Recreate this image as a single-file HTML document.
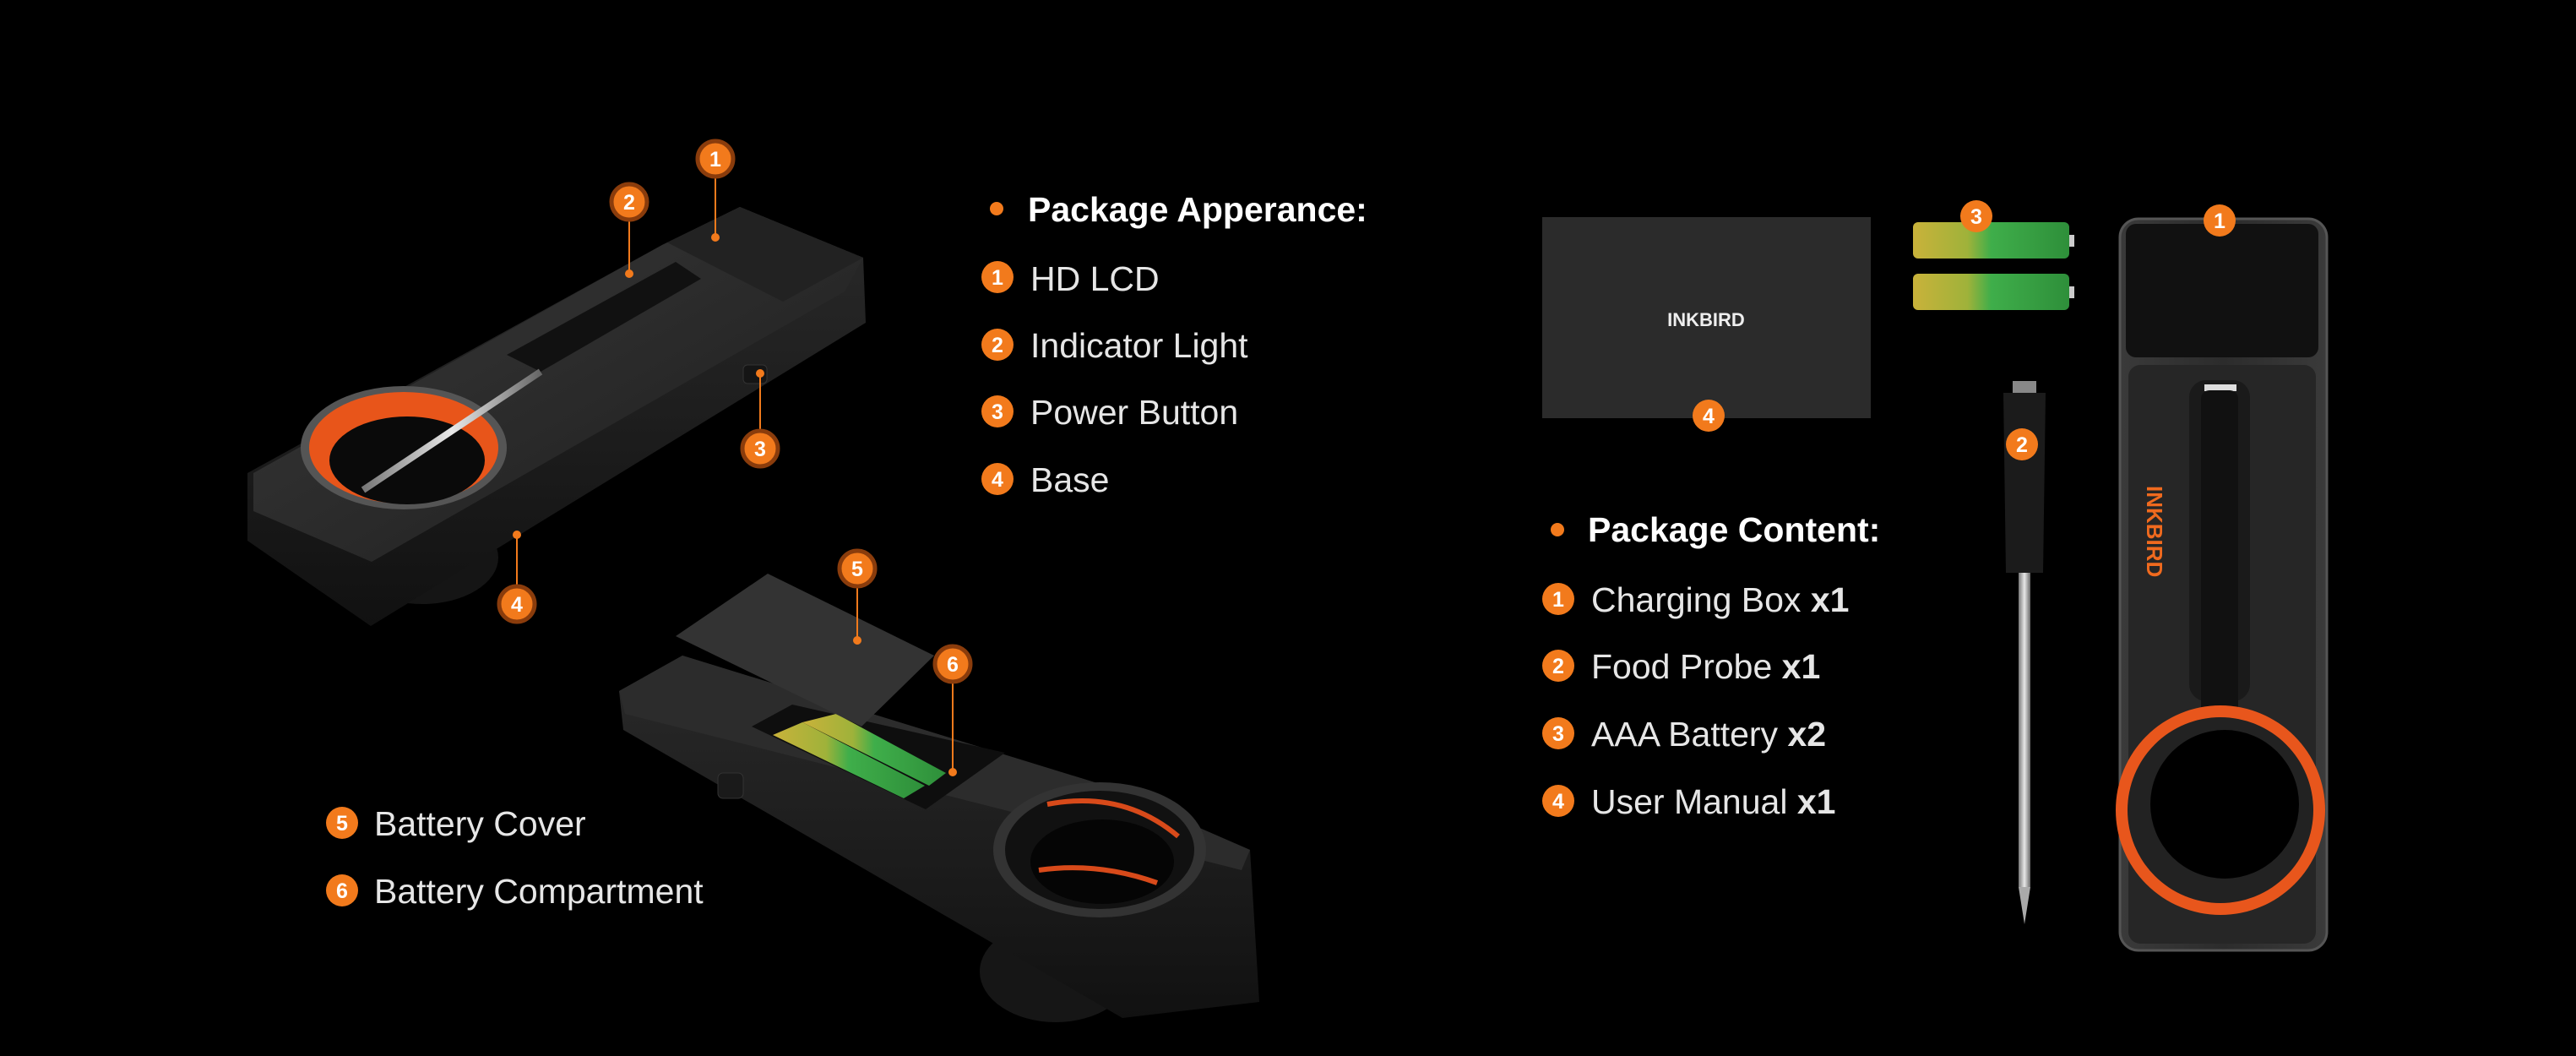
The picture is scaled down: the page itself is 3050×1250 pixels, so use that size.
<!DOCTYPE html>
<html><head><meta charset="utf-8"><style>
html,body{margin:0;padding:0;background:#000;}
svg{display:block}
.t{font-family:"Liberation Sans",sans-serif;fill:#e6e6e6;font-size:41px;}
.h{font-family:"Liberation Sans",sans-serif;fill:#fff;font-size:41px;font-weight:bold;}
.n{font-family:"Liberation Sans",sans-serif;fill:#fff;font-size:25px;font-weight:bold;text-anchor:middle;}
</style></head><body>
<svg width="3050" height="1250" viewBox="0 0 3050 1250" xmlns="http://www.w3.org/2000/svg">
<defs>
<linearGradient id="g1" x1="0" y1="0" x2="1" y2="1"><stop offset="0" stop-color="#3a3a3a"/><stop offset="1" stop-color="#1c1c1c"/></linearGradient>
<linearGradient id="g2" x1="0" y1="0" x2="0" y2="1"><stop offset="0" stop-color="#2a2a2a"/><stop offset="1" stop-color="#111"/></linearGradient>
<linearGradient id="bat" x1="0" y1="0" x2="1" y2="0"><stop offset="0" stop-color="#c9b23a"/><stop offset="0.35" stop-color="#9fb23a"/><stop offset="0.5" stop-color="#3fae4a"/><stop offset="1" stop-color="#2e8f3a"/></linearGradient>
<linearGradient id="probe" x1="0" y1="0" x2="1" y2="0"><stop offset="0" stop-color="#777"/><stop offset="0.5" stop-color="#e8e8e8"/><stop offset="1" stop-color="#666"/></linearGradient>
<linearGradient id="box" x1="0" y1="0" x2="1" y2="0"><stop offset="0" stop-color="#3a3a3a"/><stop offset="0.5" stop-color="#2c2c2c"/><stop offset="1" stop-color="#3a3a3a"/></linearGradient>
</defs>
<rect width="3050" height="1250" fill="#000"/>

<!-- Device 1 -->
<ellipse cx="500" cy="660" rx="90" ry="55" fill="#151515"/>
<polygon points="293,560 784,290 876,245 1022,305 1025,382 439,741 293,640" fill="url(#g2)"/>
<polygon points="300,560 784,290 876,245 1022,305 1000,345 440,665 300,605" fill="url(#g1)"/>
<polygon points="790,287 876,245 1022,305 927,357" fill="#222"/>
<polygon points="600,420 800,310 830,330 640,440" fill="#111"/>
<rect x="880" y="432" width="28" height="22" rx="5" fill="#151515" stroke="#333"/>
<ellipse cx="478" cy="530" rx="122" ry="73" fill="#555"/>
<ellipse cx="478" cy="530" rx="112" ry="66" fill="#e8551a"/>
<ellipse cx="482" cy="545" rx="92" ry="52" fill="#0a0a0a"/>
<line x1="430" y1="580" x2="640" y2="440" stroke="url(#probe)" stroke-width="8"/>

<!-- Device 2 -->
<ellipse cx="1250" cy="1150" rx="90" ry="60" fill="#161616"/>
<polygon points="733,818 808,776 1296,926 1480,1006 1491,1186 1329,1205 738,864" fill="url(#g2)"/>
<polygon points="733,818 808,776 1296,926 1480,1006 1470,1030 740,845" fill="#2c2c2c"/>
<polygon points="890,860 938,834 1190,891 1096,958" fill="#0e0e0e"/>
<polygon points="915,870 950,855 1095,930 1070,945" fill="url(#bat)"/>
<polygon points="950,855 990,845 1120,915 1100,930" fill="url(#bat)"/>
<polygon points="800,753 909,679 1106,776 1020,860" fill="#333"/>
<rect x="850" y="915" width="30" height="30" rx="6" fill="#1a1a1a" stroke="#333"/>
<ellipse cx="1302" cy="1006" rx="126" ry="80" fill="#333"/>
<ellipse cx="1302" cy="1006" rx="112" ry="70" fill="#111"/>
<ellipse cx="1305" cy="1020" rx="85" ry="50" fill="#050505"/>
<path d="M1240,952 Q1330,935 1395,990" stroke="#d84a1a" stroke-width="6" fill="none"/>
<path d="M1230,1030 Q1300,1020 1370,1045" stroke="#d84a1a" stroke-width="6" fill="none"/>

<!-- Left markers -->
<g stroke="#f27a1c" stroke-width="2" fill="none">
<line x1="847" y1="188" x2="847" y2="281"/><line x1="745" y1="239" x2="745" y2="324"/>
<line x1="900" y1="531" x2="900" y2="442"/><line x1="612" y1="715" x2="612" y2="633"/>
<line x1="1015" y1="673" x2="1015" y2="758"/><line x1="1128" y1="786" x2="1128" y2="914"/>
</g>
<g fill="#f27a1c">
<circle cx="847" cy="281" r="5"/><circle cx="745" cy="324" r="5"/><circle cx="900" cy="442" r="5"/>
<circle cx="612" cy="633" r="5"/><circle cx="1015" cy="758" r="5"/><circle cx="1128" cy="914" r="5"/>
</g>
<g fill="#f27a1c" stroke="#8a3c0c" stroke-width="5">
<circle cx="847" cy="188" r="21"/><circle cx="745" cy="239" r="21"/><circle cx="900" cy="531" r="21"/>
<circle cx="612" cy="715" r="21"/><circle cx="1015" cy="673" r="21"/><circle cx="1128" cy="786" r="21"/>
</g>
<text class="n" x="847" y="197">1</text><text class="n" x="745" y="248">2</text><text class="n" x="900" y="540">3</text>
<text class="n" x="612" y="724">4</text><text class="n" x="1015" y="682">5</text><text class="n" x="1128" y="795">6</text>

<!-- Left texts -->
<circle cx="1180" cy="247" r="8" fill="#f27a1c"/>
<text class="h" x="1217" y="262">Package Apperance:</text>
<g fill="#f27a1c"><circle cx="1181" cy="328" r="19"/><circle cx="1181" cy="408" r="19"/><circle cx="1181" cy="487" r="19"/><circle cx="1181" cy="567" r="19"/>
<circle cx="405" cy="974" r="19"/><circle cx="405" cy="1054" r="19"/></g>
<text class="n" x="1181" y="337">1</text><text class="n" x="1181" y="417">2</text><text class="n" x="1181" y="496">3</text><text class="n" x="1181" y="576">4</text>
<text class="n" x="405" y="983">5</text><text class="n" x="405" y="1063">6</text>
<text class="t" x="1220" y="344">HD LCD</text>
<text class="t" x="1220" y="423">Indicator Light</text>
<text class="t" x="1220" y="502">Power Button</text>
<text class="t" x="1220" y="582">Base</text>
<text class="t" x="443" y="989">Battery Cover</text>
<text class="t" x="443" y="1069">Battery Compartment</text>

<!-- Right: manual -->
<rect x="1826" y="257" width="389" height="238" fill="#2b2b2b"/>
<text x="2020" y="386" style="font-family:'Liberation Sans',sans-serif;font-weight:bold;font-size:22px;fill:#eee;text-anchor:middle">INKBIRD</text>
<!-- batteries -->
<rect x="2265" y="263" width="185" height="43" rx="6" fill="url(#bat)"/>
<rect x="2265" y="324" width="185" height="43" rx="6" fill="url(#bat)"/>
<rect x="2450" y="278" width="6" height="14" fill="#ccc"/><rect x="2450" y="339" width="6" height="14" fill="#ccc"/>
<!-- probe -->
<rect x="2390" y="675" width="14" height="375" fill="url(#probe)"/>
<polygon points="2390,1050 2404,1050 2397,1094" fill="#aaa"/>
<rect x="2383" y="451" width="28" height="14" fill="#888"/>
<path d="M2372,465 h50 l-3,213 h-44 z" fill="#1b1b1b"/>
<!-- box -->
<rect x="2510" y="259" width="245" height="866" rx="22" fill="url(#box)" stroke="#555" stroke-width="3"/>
<rect x="2517" y="265" width="228" height="158" rx="12" fill="#111"/>
<rect x="2520" y="432" width="222" height="685" rx="14" fill="#262626"/>
<rect x="2592" y="450" width="72" height="380" rx="20" fill="#1a1a1a"/>
<rect x="2610" y="455" width="38" height="8" fill="#ddd"/>
<rect x="2606" y="462" width="44" height="450" rx="10" fill="#111"/>
<text x="0" y="0" transform="translate(2542,575) rotate(90)" style="font-family:'Liberation Sans',sans-serif;font-weight:bold;font-size:26px;fill:#f06a1e">INKBIRD</text>
<circle cx="2629" cy="959" r="124" fill="#e8561c"/>
<circle cx="2629" cy="959" r="110" fill="#222"/>
<circle cx="2634" cy="952" r="88" fill="#000"/>

<!-- Right markers -->
<g fill="#f27a1c"><circle cx="2023" cy="492" r="19"/><circle cx="2340" cy="256" r="19"/><circle cx="2394" cy="526" r="19"/><circle cx="2628" cy="261" r="19"/></g>
<text class="n" x="2023" y="501">4</text><text class="n" x="2340" y="265">3</text><text class="n" x="2394" y="535">2</text><text class="n" x="2628" y="270">1</text>

<!-- Right texts -->
<circle cx="1844" cy="627" r="8" fill="#f27a1c"/>
<text class="h" x="1880" y="641">Package Content:</text>
<g fill="#f27a1c"><circle cx="1845" cy="709" r="19"/><circle cx="1845" cy="788" r="19"/><circle cx="1845" cy="868" r="19"/><circle cx="1845" cy="948" r="19"/></g>
<text class="n" x="1845" y="718">1</text><text class="n" x="1845" y="797">2</text><text class="n" x="1845" y="877">3</text><text class="n" x="1845" y="957">4</text>
<text class="t" x="1884" y="724">Charging Box <tspan font-weight="bold">x1</tspan></text>
<text class="t" x="1884" y="803">Food Probe <tspan font-weight="bold">x1</tspan></text>
<text class="t" x="1884" y="883">AAA Battery <tspan font-weight="bold">x2</tspan></text>
<text class="t" x="1884" y="963">User Manual <tspan font-weight="bold">x1</tspan></text>
</svg>
</body></html>
